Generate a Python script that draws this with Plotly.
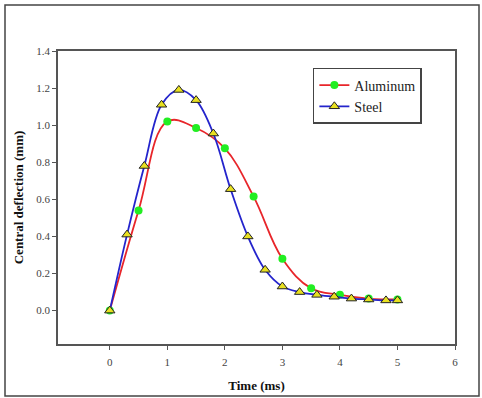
import plotly.graph_objects as go

al_t = [0, 0.5, 1.0, 1.5, 2.0, 2.5, 3.0, 3.5, 4.0, 4.5, 5.0]
al_d = [0.0, 0.54, 1.02, 0.985, 0.875, 0.615, 0.28, 0.12, 0.085, 0.065, 0.06]

st_t = [0, 0.3, 0.6, 0.9, 1.2, 1.5, 1.8, 2.1, 2.4, 2.7, 3.0, 3.3, 3.6, 3.9, 4.2, 4.5, 4.8, 5.0]
st_d = [0.0, 0.41, 0.78, 1.11, 1.19, 1.135, 0.955, 0.655, 0.40, 0.22, 0.13, 0.10,
        0.085, 0.075, 0.065, 0.06, 0.055, 0.055]

x_ticks = [0, 1, 2, 3, 4, 5, 6]
y_ticks = [0.0, 0.2, 0.4, 0.6, 0.8, 1.0, 1.2, 1.4]

serif = "Liberation Serif, Times New Roman, serif"

fig = go.Figure()
fig.add_trace(go.Scatter(
    x=al_t, y=al_d, name="Aluminum", mode="lines+markers",
    line=dict(color="#e8252a", width=1.8, shape="spline", smoothing=1.1),
    marker=dict(symbol="circle", size=8, color="#22ee22", line=dict(width=0)),
))
fig.add_trace(go.Scatter(
    x=st_t, y=st_d, name="Steel", mode="lines+markers",
    line=dict(color="#2424cc", width=1.8, shape="spline", smoothing=1.0),
    marker=dict(symbol="triangle-up", size=9, color="#e8e020",
                line=dict(color="#222222", width=1)),
))

fig.update_layout(
    width=482, height=398,
    margin=dict(l=58, r=27, t=51, b=54),
    paper_bgcolor="white", plot_bgcolor="white",
    font=dict(family=serif, size=11, color="#333333"),
    showlegend=True,
    legend=dict(x=0.642, y=0.942, xanchor="left", yanchor="top",
                bordercolor="#444444", borderwidth=1.5, bgcolor="white",
                font=dict(family=serif, size=14, color="#222222"),
                tracegroupgap=0, itemwidth=30),
    xaxis=dict(range=[-0.9, 6], tickvals=x_ticks, ticktext=[str(v) for v in x_ticks],
               showgrid=False, zeroline=False, showline=True, linecolor="#555555",
               linewidth=1.5, mirror=True, ticks="outside", ticklen=4,
               ticklabelstandoff=3, automargin=False,
               tickcolor="#555555", tickfont=dict(family=serif, size=11, color="#444444"),
               title=dict(text="<b>Time (ms)</b>", font=dict(family=serif, size=13, color="#111111"),
                          standoff=14)),
    yaxis=dict(range=[-0.18, 1.4], tickvals=y_ticks, ticktext=[f"{v:.1f}" for v in y_ticks],
               showgrid=False, zeroline=False, showline=True, linecolor="#555555",
               linewidth=1.5, mirror=True, ticks="outside", ticklen=4, automargin=False,
               tickcolor="#555555", tickfont=dict(family=serif, size=11, color="#444444"),
               title=dict(text="<b>Central deflection (mm)</b>",
                          font=dict(family=serif, size=13, color="#111111"), standoff=10)),
    shapes=[dict(type="rect", xref="paper", yref="paper",
                 x0=(5 - 58) / 397, x1=(479 - 58) / 397,
                 y0=(344 - 396) / 293, y1=(344 - 5) / 293,
                 line=dict(color="#444444", width=1.5), fillcolor="rgba(0,0,0,0)", layer="below")],
)

fig.write_html("out.html")
